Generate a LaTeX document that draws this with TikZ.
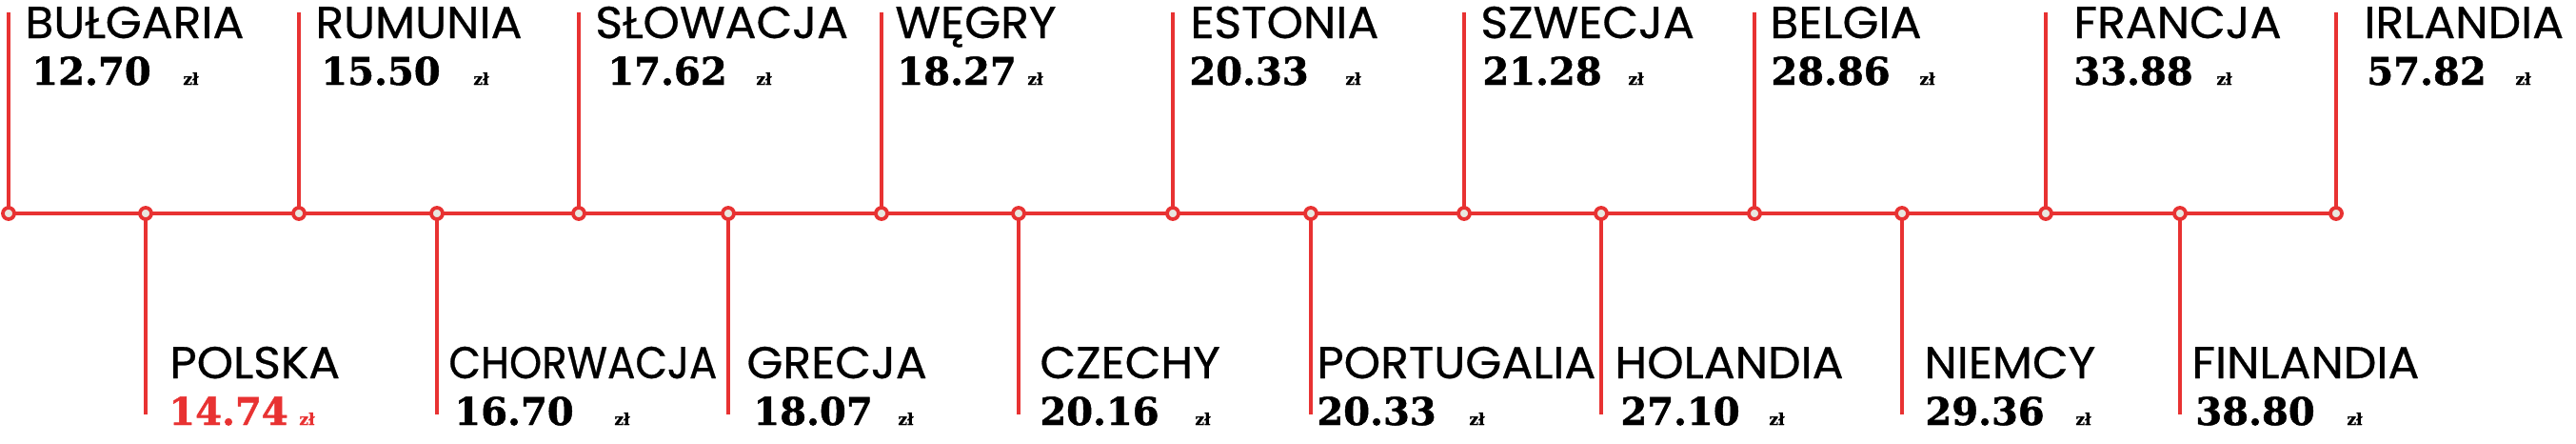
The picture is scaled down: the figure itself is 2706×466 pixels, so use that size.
\documentclass[tikz,border=0pt]{standalone}
\usepackage{fontspec}
\usetikzlibrary{backgrounds}
\newfontfamily\namefont{Poppins}[FakeStretch=1.04, FakeBold=0.6]
\newfontfamily\namefontn{Poppins}[FakeStretch=0.925, FakeBold=0.6]
\newfontfamily\numfont{DejaVu Serif}[FakeBold=1.2]
\definecolor{rail}{RGB}{232,50,50}
\definecolor{stopfill}{RGB}{232,232,224}
\tikzset{
  x=0.5pt, y=-0.5pt,
  railline/.style={draw=rail, line width=2.4pt},
  stop/.style={circle, draw=rail, fill=stopfill, line width=1.9pt, minimum size=6pt, inner sep=0pt},
  country/.style={anchor=base west, inner sep=0pt, font=\namefont\fontsize{23.5}{26}\selectfont},
  price/.style={anchor=base west, inner sep=0pt, font=\numfont\bfseries\fontsize{20}{22}\selectfont},
  unit/.style={anchor=base west, inner sep=0pt, font=\numfont\bfseries\fontsize{8.5}{9}\selectfont},
}
\begin{document}
\begin{tikzpicture}
\useasboundingbox (0,0) rectangle (2706,466);
% stations
\foreach \i/\x in {1/9,2/153,3/314,4/459,5/608,6/765,7/926,8/1070,9/1232,10/1377,11/1538,12/1682,13/1843,14/1998,15/2149,16/2290,17/2454}{
  \node[stop] (s\i) at (\x,224) {};
}
% top labels
\foreach \i/\x/\name/\num/\nx/\px/\zx in {
  1/9/BUŁGARIA/12.70/26/33/192,
  3/314/RUMUNIA/15.50/331/337/497,
  5/608/SŁOWACJA/17.62/625/638/794,
  7/926/WĘGRY/18.27/940/942/1079,
  9/1232/ESTONIA/20.33/1250/1249/1413,
  11/1538/SZWECJA/21.28/1555/1557/1710,
  13/1843/BELGIA/28.86/1859/1860/2016,
  15/2149/FRANCJA/33.88/2178/2178/2328,
  17/2454/IRLANDIA/57.82/2483/2486/2642}{
  \coordinate (e\i) at (\x,13);
  \node[country] (c\i) at (\nx,40) {\name};
  \node[price] (p\i) at (\px,89) {\num};
  \node[unit] (u\i) at (\zx,89) {zł};
}
% bottom labels
\foreach \i/\x/\name/\num/\nx/\px/\zx/\col in {
  2/153/POLSKA/14.74/178/177/314/rail,
  4/459/{\namefontn CHORWACJA}/16.70/471/477/645/black,
  6/765/GRECJA/18.07/784/791/943/black,
  8/1070/CZECHY/20.16/1092/1092/1255/black,
  10/1377/PORTUGALIA/20.33/1383/1383/1543/black,
  12/1682/HOLANDIA/27.10/1696/1702/1858/black,
  14/1998/NIEMCY/29.36/2021/2022/2180/black,
  16/2290/FINLANDIA/38.80/2302/2306/2465/black}{
  \coordinate (e\i) at (\x,435);
  \node[country] (c\i) at (\nx,397) {\name};
  \node[price, text=\col] (p\i) at (\px,446) {\num};
  \node[unit, text=\col] (u\i) at (\zx,446) {zł};
}
\begin{scope}[on background layer]
  \draw[railline] (s1.center) -- (s17.center);
  \foreach \i in {1,...,17}{
    \draw[railline] (e\i) -- (s\i.center);
  }
\end{scope}
\end{tikzpicture}
\end{document}
